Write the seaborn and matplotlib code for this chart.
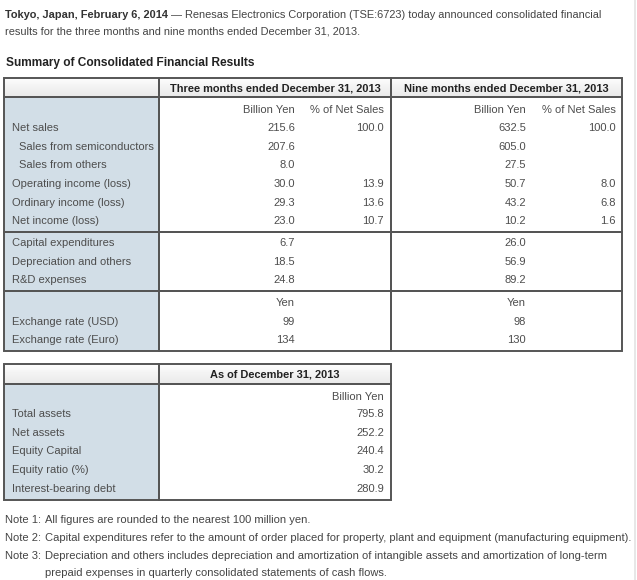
import matplotlib
matplotlib.use("Agg")
import matplotlib.pyplot as plt
from matplotlib.patches import Rectangle
import numpy as np
import seaborn as sns

# ---- data ----
intro_bold = "Tokyo, Japan, February 6, 2014"
intro_rest = " \u2014 Renesas Electronics Corporation (TSE:6723) today announced consolidated financial"
intro_line2 = "results for the three months and nine months ended December 31, 2013."
section_title = "Summary of Consolidated Financial Results"

period_headers = ["Three months ended December 31, 2013", "Nine months ended December 31, 2013"]
unit_headers = ["Billion Yen", "% of Net Sales"]

pl_items = ["Net sales", "Sales from semiconductors", "Sales from others",
            "Operating income (loss)", "Ordinary income (loss)", "Net income (loss)"]
pl_indent = [False, True, True, False, False, False]
pl_3m_yen = [215.6, 207.6, 8.0, 30.0, 29.3, 23.0]
pl_3m_pct = [100.0, None, None, 13.9, 13.6, 10.7]
pl_9m_yen = [632.5, 605.0, 27.5, 50.7, 43.2, 10.2]
pl_9m_pct = [100.0, None, None, 8.0, 6.8, 1.6]

capex_items = ["Capital expenditures", "Depreciation and others", "R&D expenses"]
capex_3m = [6.7, 18.5, 24.8]
capex_9m = [26.0, 56.9, 89.2]

fx_unit = "Yen"
fx_items = ["Exchange rate (USD)", "Exchange rate (Euro)"]
fx_3m = [99, 134]
fx_9m = [98, 130]

bs_header = "As of December 31, 2013"
bs_items = ["Total assets", "Net assets", "Equity Capital", "Equity ratio (%)", "Interest-bearing debt"]
bs_values = [795.8, 252.2, 240.4, 30.2, 280.9]

note_tags = ["Note 1:", "Note 2:", "Note 3:", ""]
note_texts = ["All figures are rounded to the nearest 100 million yen.",
              "Capital expenditures refer to the amount of order placed for property, plant and equipment (manufacturing equipment).",
              "Depreciation and others includes depreciation and amortization of intangible assets and amortization of long-term",
              "prepaid expenses in quarterly consolidated statements of cash flows."]

# ---- style ----
sns.set_theme(style="white")
plt.rcParams['font.family'] = ['Liberation Sans', 'DejaVu Sans']

FS = 8.05         # ~11px
FS_INTRO = 7.9
FS_HEAD = 7.95
BODY = '#4d4d4d'
HEAD = '#222222'
LABEL_BG = '#d2dee7'
EDGE = '#555555'
LW = 1.4

fig = plt.figure(figsize=(6.37, 5.80), dpi=100)
ax = fig.add_axes([0, 0, 1, 1])
ax.set_facecolor('white')

grad = np.linspace(0.99, 0.91, 20).reshape(-1, 1)


def header_cell(x0, x1, y0, y1, text=None):
    ax.imshow(grad, cmap='gray', vmin=0, vmax=1, extent=(x0, x1, y1, y0),
              aspect='auto', zorder=1)
    ax.add_patch(Rectangle((x0, y0), x1 - x0, y1 - y0, fill=False,
                           ec=EDGE, lw=LW, zorder=3))
    if text:
        ax.text((x0 + x1) / 2, (y0 + y1) / 2 + 0.8, text, ha='center', va='center',
                fontsize=FS_HEAD, fontweight='bold', color=HEAD, zorder=4)


def body_block(xs, y0, y1):
    ax.add_patch(Rectangle((xs[0], y0), xs[1] - xs[0], y1 - y0,
                           fc=LABEL_BG, ec='none', zorder=1))
    for a, b in zip(xs[:-1], xs[1:]):
        ax.add_patch(Rectangle((a, y0), b - a, y1 - y0, fill=False,
                               ec=EDGE, lw=LW, zorder=3))


def fmt(v):
    if v is None:
        return ""
    return f"{v:.1f}" if isinstance(v, float) else str(v)


def txt(x, y, s, ha='left', size=FS, **kw):
    ax.text(x, y, s, ha=ha, va='center', fontsize=size, color=kw.pop('color', BODY), **kw)


# ---- intro text ----
t = ax.text(5, 15, intro_bold, fontsize=FS_INTRO, fontweight='bold', color='#333333',
            ha='left', va='center')
ax.set_xlim(0, 637)
ax.set_ylim(580, 0)
fig.canvas.draw()
bb = t.get_window_extent()
x_end = ax.transData.inverted().transform((bb.x1, bb.y0))[0]
txt(x_end, 15, intro_rest, size=FS_INTRO, color='#444444')
txt(5, 32, intro_line2, size=FS_INTRO, color='#444444')
ax.text(6, 63, section_title, fontsize=8.6, fontweight='bold', color=HEAD,
        ha='left', va='center')

# ---- table 1 ----
cols1 = [4, 159, 391, 622]
header_cell(cols1[0], cols1[1], 78, 97)
header_cell(cols1[1], cols1[2], 78, 97, period_headers[0])
header_cell(cols1[2], cols1[3], 78, 97, period_headers[1])

body_block(cols1, 97, 232)
body_block(cols1, 232, 291)
body_block(cols1, 291, 351)

right = [295, 384, 526, 616]
label_x, indent_x = 12, 19

y_unit = 110
for i, u in enumerate(unit_headers * 2):
    txt(right[i], y_unit, u, ha='right')

pl_rows = [128, 147, 165, 184, 203, 221]
for i, y in enumerate(pl_rows):
    txt(indent_x if pl_indent[i] else label_x, y, pl_items[i])
    for c, series in enumerate([pl_3m_yen, pl_3m_pct, pl_9m_yen, pl_9m_pct]):
        txt(right[c], y, fmt(series[i]), ha='right')

capex_rows = [243, 262, 280]
for i, y in enumerate(capex_rows):
    txt(label_x, y, capex_items[i])
    txt(right[0], y, fmt(capex_3m[i]), ha='right')
    txt(right[2], y, fmt(capex_9m[i]), ha='right')

txt(right[0], 303, fx_unit, ha='right')
txt(right[2], 303, fx_unit, ha='right')
fx_rows = [322, 340]
for i, y in enumerate(fx_rows):
    txt(label_x, y, fx_items[i])
    txt(right[0], y, fmt(fx_3m[i]), ha='right')
    txt(right[2], y, fmt(fx_9m[i]), ha='right')

# ---- table 2 ----
cols2 = [4, 159, 391]
header_cell(cols2[0], cols2[1], 364, 384)
header_cell(cols2[1], cols2[2], 364, 384, bs_header)
body_block(cols2, 384, 500)
txt(384, 397, unit_headers[0], ha='right')
bs_rows = [414, 433, 451, 470, 489]
for i, y in enumerate(bs_rows):
    txt(label_x, y, bs_items[i])
    txt(384, y, fmt(bs_values[i]), ha='right')

# ---- notes ----
note_rows = [520, 538, 556, 573]
for tag, s, y in zip(note_tags, note_texts, note_rows):
    if tag:
        txt(5, y, tag, color='#444444')
    txt(45, y, s, color='#444444')

# page edge line at the right
ax.plot([634.5, 634.5], [0, 580], color='#e3e3e3', lw=1.2, zorder=0)

ax.set_xlim(0, 637)
ax.set_ylim(580, 0)
ax.axis('off')
fig.savefig('out.png', dpi=100, facecolor='white')
